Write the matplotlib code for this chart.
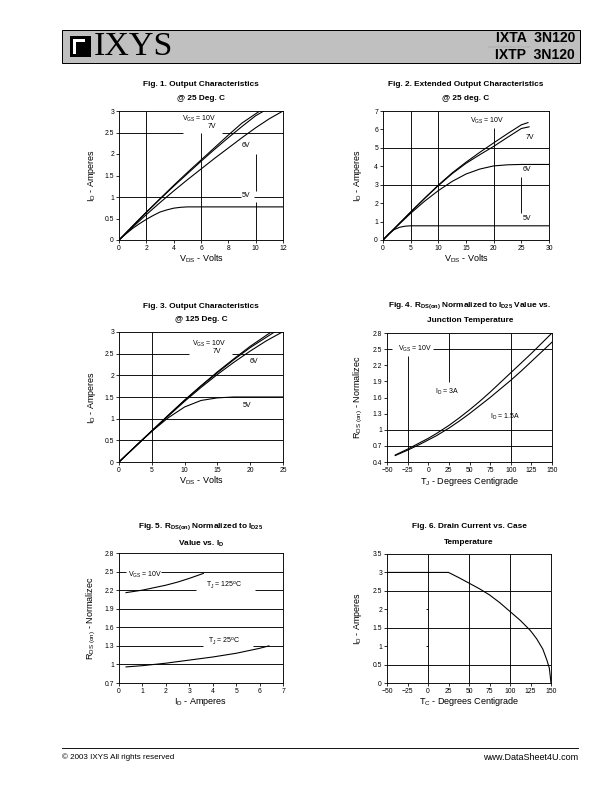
import matplotlib

matplotlib.use("Agg")
import matplotlib.pyplot as plt  # noqa: E402
from matplotlib.patches import Rectangle  # noqa: E402

plt.rcParams["font.family"] = ["Liberation Sans", "DejaVu Sans"]
plt.rcParams["mathtext.fontset"] = "custom"
plt.rcParams["mathtext.rm"] = "Liberation Sans"
plt.rcParams["mathtext.it"] = "Liberation Sans:italic"
plt.rcParams["mathtext.bf"] = "Liberation Sans:bold"

W, H = 612, 792

# ---- Fig. 1: output characteristics @ 25 C ----
f1_vds_10v = [0, 1, 2, 3, 4, 5, 6, 7, 8, 9, 10.3]
f1_id_10v = [0, 0.33, 0.65, 0.96, 1.27, 1.57, 1.86, 2.15, 2.44, 2.72, 3.0]
f1_vds_7v = [0, 1, 2, 3, 4, 5, 6, 7, 8, 9, 10, 10.6]
f1_id_7v = [0, 0.32, 0.64, 0.95, 1.25, 1.54, 1.83, 2.11, 2.38, 2.64, 2.89, 3.0]
f1_vds_6v = [0, 1, 2, 3, 4, 5, 6, 7, 8, 9, 10, 11, 12]
f1_id_6v = [0, 0.3, 0.59, 0.87, 1.14, 1.4, 1.65, 1.9, 2.14, 2.38, 2.61, 2.82, 3.0]
f1_vds_5v = [0, 0.5, 1, 1.5, 2, 2.5, 3, 3.5, 4, 4.5, 5, 6, 12]
f1_id_5v = [0, 0.14, 0.27, 0.38, 0.48, 0.57, 0.65, 0.7, 0.74, 0.76, 0.77, 0.77, 0.77]

# ---- Fig. 2: extended output characteristics @ 25 C ----
f2_vds_10v = [0, 2.5, 5, 7.5, 10, 12.5, 15, 17.5, 20, 22.5, 25, 26.2]
f2_id_10v = [0, 0.76, 1.52, 2.26, 2.98, 3.64, 4.22, 4.76, 5.27, 5.77, 6.25, 6.37]
f2_vds_7v = [0, 2.5, 5, 7.5, 10, 12.5, 15, 17.5, 20, 22.5, 25, 26.4]
f2_id_7v = [0, 0.76, 1.51, 2.25, 2.95, 3.6, 4.16, 4.63, 5.08, 5.57, 6.05, 6.14]
f2_vds_6v = [0, 2.5, 5, 7.5, 10, 12.5, 15, 17.5, 20, 22.5, 25, 30]
f2_id_6v = [0, 0.74, 1.45, 2.1, 2.68, 3.18, 3.58, 3.85, 4.02, 4.08, 4.1, 4.1]
f2_vds_5v = [0, 1, 2, 3, 4, 5, 30]
f2_id_5v = [0, 0.33, 0.56, 0.69, 0.75, 0.77, 0.77]

# ---- Fig. 3: output characteristics @ 125 C ----
f3_vds_10v = [0, 2.5, 5, 7.5, 10, 12.5, 15, 17.5, 20, 23.2]
f3_id_10v = [0, 0.36, 0.72, 1.08, 1.43, 1.76, 2.08, 2.38, 2.67, 3.0]
f3_vds_7v = [0, 2.5, 5, 7.5, 10, 12.5, 15, 17.5, 20, 23.7]
f3_id_7v = [0, 0.36, 0.72, 1.07, 1.42, 1.75, 2.06, 2.36, 2.64, 3.0]
f3_vds_6v = [0, 2.5, 5, 7.5, 10, 12.5, 15, 17.5, 20, 22.5, 24.9]
f3_id_6v = [0, 0.36, 0.71, 1.06, 1.4, 1.72, 2.02, 2.3, 2.56, 2.8, 3.0]
f3_vds_5v = [0, 2.5, 5, 7.5, 10, 12.5, 15, 17.5, 20, 25]
f3_id_5v = [0, 0.36, 0.71, 1.02, 1.27, 1.42, 1.48, 1.5, 1.5, 1.5]

# ---- Fig. 4: RDS(on) vs junction temperature ----
f4_tj = [-40, -25, -10, 0, 10, 25, 37.5, 50, 62.5, 75, 87.5, 100, 112.5, 125, 137.5, 150]
f4_r_3a = [0.53, 0.64, 0.76, 0.84, 0.93, 1.08, 1.22, 1.37, 1.53, 1.7, 1.88, 2.06, 2.24, 2.42, 2.61, 2.8]
f4_r_15a = [0.52, 0.62, 0.73, 0.81, 0.89, 1.03, 1.16, 1.3, 1.45, 1.6, 1.76, 1.92, 2.09, 2.27, 2.45, 2.63]

# ---- Fig. 5: RDS(on) vs ID ----
f5_id_125 = [0.3, 1, 1.5, 2, 2.5, 3, 3.6]
f5_r_125 = [2.16, 2.2, 2.24, 2.28, 2.33, 2.39, 2.47]
f5_id_25 = [0.3, 1, 2, 3, 4, 5, 6, 6.4]
f5_r_25 = [0.96, 0.98, 1.02, 1.07, 1.12, 1.18, 1.26, 1.3]

# ---- Fig. 6: drain current vs case temperature ----
f6_tc = [-50, 25, 37.5, 50, 62.5, 75, 87.5, 100, 112.5, 125, 132.5, 140, 145, 148, 150]
f6_id = [3, 3, 2.86, 2.71, 2.56, 2.39, 2.18, 1.94, 1.7, 1.42, 1.2, 0.92, 0.62, 0.4, 0]

# ---- tick labels ----
ticks_12 = [0, 2, 4, 6, 8, 10, 12]
ticks_30 = [0, 5, 10, 15, 20, 25, 30]
ticks_25 = [0, 5, 10, 15, 20, 25]
ticks_temp = [-50, -25, 0, 25, 50, 75, 100, 125, 150]
ticks_7 = [0, 1, 2, 3, 4, 5, 6, 7]
yt_3 = [0, 0.5, 1, 1.5, 2, 2.5, 3]
yt_3_lbl = ["0", "0.5", "1", "1.5", "2", "2.5", "3"]
yt_7 = [0, 1, 2, 3, 4, 5, 6, 7]
yt_r = [0.4, 0.7, 1.0, 1.3, 1.6, 1.9, 2.2, 2.5, 2.8]
yt_r_lbl = ["0.4", "0.7", "1", "1.3", "1.6", "1.9", "2.2", "2.5", "2.8"]
yt_r5 = [0.7, 1.0, 1.3, 1.6, 1.9, 2.2, 2.5, 2.8]
yt_r5_lbl = ["0.7", "1", "1.3", "1.6", "1.9", "2.2", "2.5", "2.8"]
yt_35 = [0, 0.5, 1, 1.5, 2, 2.5, 3, 3.5]
yt_35_lbl = ["0", "0.5", "1", "1.5", "2", "2.5", "3", "3.5"]

fig = plt.figure(figsize=(W / 72, H / 72), dpi=72)


def make_axes(x0, y0, x1, y1):
    ax = fig.add_axes([x0 / W, 1 - y1 / H, (x1 - x0) / W, (y1 - y0) / H])
    for s in ax.spines.values():
        s.set_linewidth(0.9)
    ax.tick_params(direction="out", length=3, width=0.8, labelsize=6.8, pad=2)
    ax.px = (x0, y0, x1, y1)
    return ax


def hgrid(ax, y, *spans):
    for a, b in spans:
        ax.plot([a, b], [y, y], color="black", lw=0.9, zorder=1, solid_capstyle="butt")


def vgrid(ax, x, *spans):
    for a, b in spans:
        ax.plot([x, x], [a, b], color="black", lw=0.9, zorder=1, solid_capstyle="butt")


def curve(ax, x, y):
    ax.plot(x, y, color="black", lw=1.1, zorder=3, solid_joinstyle="round")


def note(ax, x, y, s):
    ax.text(x, y, s, fontsize=7, ha="left", va="center", zorder=4)


def title(cx, y0, l1, l2, dy=14):
    fig.text(cx / W, 1 - y0 / H, l1, ha="center", va="center", fontsize=8.3, fontweight="bold")
    fig.text(cx / W, 1 - (y0 + dy) / H, l2, ha="center", va="center", fontsize=8.3, fontweight="bold")


def labels(ax, xl, yl, xlab_y, ylab_x):
    x0, y0, x1, y1 = ax.px
    ax.set_xlabel(xl, fontsize=9)
    ax.set_ylabel(yl, fontsize=9)
    ax.xaxis.label.set_va("center")
    ax.yaxis.label.set_va("center")
    ax.xaxis.set_label_coords(0.5, -(xlab_y - y1) / (y1 - y0))
    ax.yaxis.set_label_coords((ylab_x - x0) / (x1 - x0), 0.5)


# Fig. 1
ax1 = make_axes(119, 111, 283, 240)
ax1.set_xlim(0, 12)
ax1.set_ylim(0, 3)
ax1.set_xticks(ticks_12)
ax1.set_yticks(yt_3, yt_3_lbl)
hgrid(ax1, 2.5, (0, 4.7), (7.5, 12))
hgrid(ax1, 1.0, (0, 8.9), (9.9, 12))
vgrid(ax1, 2, (0, 3))
vgrid(ax1, 6, (0, 2.5))
vgrid(ax1, 10, (0, 0.88), (1.15, 2.0))
curve(ax1, f1_vds_10v, f1_id_10v)
curve(ax1, f1_vds_7v, f1_id_7v)
curve(ax1, f1_vds_6v, f1_id_6v)
curve(ax1, f1_vds_5v, f1_id_5v)
note(ax1, 4.6, 2.82, r"V$_{\rm GS}$ = 10V")
note(ax1, 6.5, 2.64, "7V")
note(ax1, 9.0, 2.2, "6V")
note(ax1, 8.95, 1.03, "5V")
labels(ax1, r"V$_{\rm DS}$ - Volts", r"I$_{\rm D}$ - Amperes", 259, 91)
title(201, 85, "Fig. 1. Output Characteristics", "@ 25 Deg. C")

# Fig. 2
ax2 = make_axes(383, 111, 549, 240)
ax2.set_xlim(0, 30)
ax2.set_ylim(0, 7)
ax2.set_xticks(ticks_30)
ax2.set_yticks(yt_7)
hgrid(ax2, 5, (0, 30))
hgrid(ax2, 3, (0, 30))
vgrid(ax2, 5, (0, 7))
vgrid(ax2, 10, (0, 7))
vgrid(ax2, 20, (0, 6.1))
vgrid(ax2, 25, (1.45, 3.4))
curve(ax2, f2_vds_10v, f2_id_10v)
curve(ax2, f2_vds_7v, f2_id_7v)
curve(ax2, f2_vds_6v, f2_id_6v)
curve(ax2, f2_vds_5v, f2_id_5v)
note(ax2, 15.7, 6.45, r"V$_{\rm GS}$ = 10V")
note(ax2, 25.8, 5.57, "7V")
note(ax2, 25.2, 3.84, "6V")
note(ax2, 25.3, 1.16, "5V")
labels(ax2, r"V$_{\rm DS}$ - Volts", r"I$_{\rm D}$ - Amperes", 259, 357)
title(466, 85, "Fig. 2. Extended Output Characteristics", "@ 25 deg. C")

# Fig. 3
ax3 = make_axes(119, 332, 283, 462)
ax3.set_xlim(0, 25)
ax3.set_ylim(0, 3)
ax3.set_xticks(ticks_25)
ax3.set_yticks(yt_3, yt_3_lbl)
for yv in [0.5, 1.0, 1.5, 2.0]:
    hgrid(ax3, yv, (0, 25))
hgrid(ax3, 2.5, (0, 10.7), (17.3, 25))
vgrid(ax3, 5, (0, 3))
curve(ax3, f3_vds_10v, f3_id_10v)
curve(ax3, f3_vds_7v, f3_id_7v)
curve(ax3, f3_vds_6v, f3_id_6v)
curve(ax3, f3_vds_5v, f3_id_5v)
note(ax3, 11.2, 2.72, r"V$_{\rm GS}$ = 10V")
note(ax3, 14.3, 2.55, "7V")
note(ax3, 19.9, 2.33, "6V")
note(ax3, 18.9, 1.31, "5V")
labels(ax3, r"V$_{\rm DS}$ - Volts", r"I$_{\rm D}$ - Amperes", 481, 91)
title(201, 306, "Fig. 3. Output Characteristics", "@ 125 Deg. C")

# Fig. 4
ax4 = make_axes(387, 333, 552, 462)
ax4.set_xlim(-50, 150)
ax4.set_ylim(0.4, 2.8)
ax4.set_xticks(ticks_temp)
ax4.set_yticks(yt_r, yt_r_lbl)
hgrid(ax4, 1.0, (-50, 150))
hgrid(ax4, 0.7, (-50, 150))
hgrid(ax4, 2.5, (-50, -44), (6, 150))
vgrid(ax4, -25, (0.4, 2.38))
vgrid(ax4, 25, (1.88, 2.8))
vgrid(ax4, 100, (0.4, 2.8))
curve(ax4, f4_tj, f4_r_3a)
curve(ax4, f4_tj, f4_r_15a)
note(ax4, -37, 2.5, r"V$_{\rm GS}$ = 10V")
note(ax4, 8, 1.71, r"I$_{\rm D}$ = 3A")
note(ax4, 75, 1.23, r"I$_{\rm D}$ = 1.5A")
labels(ax4, r"T$_{\rm J}$ - Degrees Centigrade", r"R$_{\rm DS\ (on)}$ - Normalizec", 481, 358)
title(470, 306, r"Fig. 4. R$_{\mathbf{DS(on)}}$ Normalized to I$_{\mathbf{D25}}$ Value vs.",
      "Junction Temperature", dy=15)

# Fig. 5
ax5 = make_axes(119, 553, 283, 683)
ax5.set_xlim(0, 7)
ax5.set_ylim(0.7, 2.8)
ax5.set_xticks(ticks_7)
ax5.set_yticks(yt_r5, yt_r5_lbl)
for yv in [1.0, 1.6, 1.9]:
    hgrid(ax5, yv, (0, 7))
hgrid(ax5, 2.5, (0, 0.3), (1.8, 7))
hgrid(ax5, 2.2, (0, 3.3), (5.8, 7))
hgrid(ax5, 1.3, (0, 3.6), (5.7, 7))
curve(ax5, f5_id_125, f5_r_125)
curve(ax5, f5_id_25, f5_r_25)
note(ax5, 0.4, 2.45, r"V$_{\rm GS}$ = 10V")
note(ax5, 3.7, 2.28, r"T$_{\rm J}$ = 125$^{\rm o}$C")
note(ax5, 3.8, 1.37, r"T$_{\rm J}$ = 25$^{\rm o}$C")
labels(ax5, r"I$_{\rm D}$ - Amperes", r"R$_{\rm DS\ (on)}$ - Normalizec", 702, 91)
title(201, 527, r"Fig. 5. R$_{\mathbf{DS(on)}}$ Normalized to I$_{\mathbf{D25}}$",
      r"Value vs. I$_{\mathbf{D}}$", dy=17)

# Fig. 6
ax6 = make_axes(387, 554, 551, 683)
ax6.set_xlim(-50, 150)
ax6.set_ylim(0, 3.5)
ax6.set_xticks(ticks_temp)
ax6.set_yticks(yt_35, yt_35_lbl)
for yv in [2.5, 1.5, 0.5]:
    hgrid(ax6, yv, (-50, 150))
for xv in [0, 50, 100]:
    vgrid(ax6, xv, (0, 3.5))
for yv in [1, 2, 3]:
    hgrid(ax6, yv, (-3, 0))
curve(ax6, f6_tc, f6_id)
labels(ax6, r"T$_{\rm C}$ - Degrees Centigrade", r"I$_{\rm D}$ - Amperes", 702, 357)
title(469, 527, "Fig. 6. Drain Current vs. Case", "Temperature", dy=15)

# ---- header ----
fig.patches.append(Rectangle((62 / W, 1 - 63 / H), (580 - 62) / W, 33 / H,
                             transform=fig.transFigure, facecolor="#c0c0c0",
                             edgecolor="black", lw=1.0))
fig.patches.append(Rectangle((70 / W, 1 - 57 / H), 21 / W, 21 / H,
                             transform=fig.transFigure, facecolor="black", edgecolor="none"))
fig.patches.append(Rectangle((73 / W, 1 - 54 / H), 12 / W, 15 / H,
                             transform=fig.transFigure, facecolor="white", edgecolor="none"))
fig.patches.append(Rectangle((76 / W, 1 - 54 / H), 9 / W, 12 / H,
                             transform=fig.transFigure, facecolor="black", edgecolor="none"))
fig.text(94 / W, 1 - 47 / H, "IXYS", fontsize=34, family="Liberation Serif",
         ha="left", va="center")
fig.text(575 / W, 1 - 38 / H, "IXTA  3N120", fontsize=14, fontweight="bold",
         ha="right", va="center")
fig.text(575 / W, 1 - 55 / H, "IXTP  3N120", fontsize=14, fontweight="bold",
         ha="right", va="center")
fig.text(488 / W, 1 - 47 / H, "www.DataSheet4U.com", fontsize=4, color="#a8a8a8",
         ha="left", va="center")

# ---- footer ----
fig.add_artist(plt.Line2D([62 / W, 578 / W], [1 - 748 / H, 1 - 748 / H],
                          transform=fig.transFigure, color="black", lw=0.9))
fig.text(62 / W, 1 - 757 / H, "\u00a9 2003 IXYS All rights reserved", fontsize=8,
         ha="left", va="center")
fig.text(578 / W, 1 - 757 / H, "www.DataSheet4U.com", fontsize=9,
         ha="right", va="center")

fig.savefig("out.png", dpi=72)
plt.close(fig)
